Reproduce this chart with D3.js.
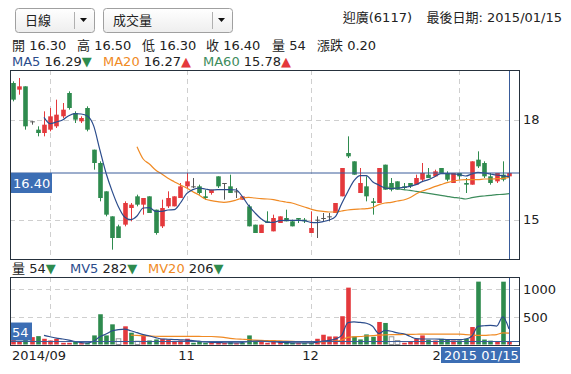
<!DOCTYPE html>
<html>
<head>
<meta charset="utf-8">
<script src="https://cdn.jsdelivr.net/npm/d3@7"></script>
<style>
body { margin: 0; background: #fff; }
svg text { font-family: "DejaVu Sans", "Noto Sans CJK TC", sans-serif; font-size: 12px; fill: #222; }
</style>
</head>
<body>
<div class="container"></div>
<script>
const WIDTH = 571;
const HEIGHT = 374;
const RED = "#e4393c";
const GREEN = "#2e8b4e";
const CURSOR = "#3a5c9a";
const BOXBLUE = "#3c6eb4";

var stockName = "迎廣(6117)";
var lastDate = "2015/01/15";

// daily prices, 2014/09 .. 2015/01/15
var opens = [19.10,18.90,19.00,17.95,17.70,17.60,17.70,17.80,18.10,18.80,18.20,17.95,18.35,17.10,16.70,15.85,15.10,14.80,14.85,15.35,
  15.70,15.45,15.70,15.30,14.80,15.40,15.40,15.65,16.00,16.00,16.00,15.70,15.80,16.30,16.10,16.00,15.85,15.60,15.40,14.85,
  14.60,14.95,14.65,14.90,15.05,14.95,15.05,15.00,14.60,15.00,15.05,15.10,15.20,15.70,17.00,16.75,15.80,16.00,15.55,15.50,
  16.65,16.10,16.15,16.00,16.10,16.05,16.20,16.35,16.30,16.55,16.40,16.10,16.40,16.10,16.05,16.80,16.70,16.30,16.15,16.35,16.30];
var highs = [19.15,19.25,19.00,17.95,17.80,18.25,18.35,18.60,18.50,18.85,18.25,18.10,18.40,17.10,16.75,15.85,15.10,14.85,15.55,15.50,
  15.75,15.65,15.70,15.30,15.60,15.85,15.70,16.10,16.40,16.25,16.05,15.90,15.90,16.30,16.10,16.35,15.95,15.70,15.45,14.85,
  14.85,15.25,15.15,15.10,15.30,15.00,15.05,15.05,15.25,15.10,15.20,15.20,15.50,16.55,17.50,16.75,16.55,16.30,15.65,16.55,
  16.65,16.25,16.15,16.10,16.10,16.35,16.70,16.55,16.50,16.55,16.45,16.40,16.40,16.25,16.75,17.05,16.75,16.40,16.40,16.75,16.50];
var lows = [18.55,18.75,17.70,17.85,17.50,17.50,17.65,17.75,18.05,18.30,17.90,17.90,17.65,16.50,15.55,15.10,14.10,14.45,14.80,14.95,
  15.40,15.15,15.20,14.55,14.75,15.35,15.40,15.65,15.95,15.95,15.75,15.60,15.75,15.95,15.60,15.80,15.65,15.60,14.80,14.60,
  14.60,14.90,14.65,14.90,14.95,14.80,14.90,14.90,14.60,14.45,14.95,14.95,15.20,15.70,16.85,16.35,15.80,15.55,15.15,15.50,
  15.90,15.85,15.90,15.90,15.95,16.05,16.15,16.25,16.30,16.40,16.15,16.10,16.20,15.80,16.05,16.55,16.25,16.05,16.10,16.15,16.30];
var closes = [18.60,19.00,17.80,17.95,17.60,17.85,18.10,18.15,18.30,18.35,18.00,18.05,17.70,16.70,15.65,15.15,14.45,14.45,15.50,15.45,
  15.45,15.65,15.20,14.60,15.35,15.65,15.70,16.00,16.15,16.00,15.80,15.65,15.90,16.00,16.10,15.80,15.85,15.70,14.80,14.60,
  14.85,14.90,15.05,15.10,14.95,14.80,15.00,14.95,14.75,15.00,15.05,15.10,15.50,16.55,16.90,16.35,16.10,15.70,15.50,16.55,
  15.90,15.90,15.90,15.95,16.00,16.25,16.40,16.25,16.45,16.40,16.20,16.40,16.30,16.05,16.75,16.60,16.30,16.10,16.40,16.20,16.40];
var volumes = [150,55,380,134,152,104,73,104,31,31,55,25,28,165,549,165,366,104,330,214,
  60,165,73,92,104,92,55,73,104,31,55,31,43,31,31,40,24,31,165,55,
  73,31,73,65,55,31,25,25,25,104,177,146,146,513,1032,146,92,183,140,409,
  391,140,73,31,55,104,165,86,73,104,86,73,73,104,317,1141,90,70,55,1140,54];

// moving averages (null = not drawn yet)
var ma5 = [null,null,null,null,null,18.07,17.88,17.93,17.99,18.12,18.18,18.17,18.11,17.82,17.10,16.40,15.85,15.39,15.08,15.00,
  15.11,15.35,15.36,15.25,15.25,15.29,15.30,15.50,15.78,15.90,15.95,15.92,15.89,15.90,15.90,15.90,15.89,15.69,15.42,15.21,
  15.03,14.92,14.92,14.97,14.98,14.98,14.98,14.97,14.92,14.91,14.94,14.99,15.09,15.48,15.84,16.17,16.32,16.32,16.14,16.04,
  15.95,15.93,15.95,15.97,16.00,16.05,16.14,16.20,16.29,16.38,16.38,16.37,16.35,16.31,16.37,16.42,16.40,16.37,16.34,16.32,16.29];
var ma20 = [null,null,null,null,null,null,null,null,null,null,null,null,null,null,null,null,null,null,null,null,
  17.19,16.82,16.67,16.49,16.37,16.24,16.14,16.04,15.95,15.84,15.74,15.62,15.57,15.54,15.52,15.54,15.59,15.65,15.67,15.65,
  15.63,15.62,15.60,15.56,15.53,15.50,15.44,15.38,15.32,15.27,15.25,15.23,15.23,15.26,15.29,15.31,15.32,15.33,15.36,15.45,
  15.50,15.52,15.56,15.59,15.66,15.77,15.86,15.92,15.99,16.05,16.11,16.16,16.19,16.20,16.20,16.20,16.22,16.22,16.23,16.24,16.27];
var ma60 = [];
for (var k = 0; k < 60; k++) ma60.push(null);
ma60 = ma60.concat([15.98,15.96,15.93,15.90,15.88,15.85,15.82,15.79,15.76,15.73,15.70,15.67,15.65,15.62,15.66,15.69,15.71,15.73,15.75,15.76,15.78]);

var mv5 = [null,null,null,null,null,165,140,115,100,80,55,35,28,60,140,190,250,270,280,250,
  215,180,155,125,100,95,90,85,80,70,60,45,40,35,32,30,30,35,55,60,
  60,55,50,40,35,30,28,28,28,40,60,75,100,165,395,410,400,385,330,200,
  255,240,210,195,150,105,100,100,100,95,90,90,90,100,150,330,340,348,335,500,282];
var mv20 = [null,null,null,null,null,null,null,null,null,null,null,null,null,null,null,null,null,null,null,170,
  165,160,155,150,148,147,146,146,146,146,146,145,145,140,130,110,100,95,90,80,
  75,72,70,65,60,55,52,50,45,45,50,55,60,80,130,140,145,155,160,170,
  175,178,180,182,184,186,188,190,190,190,190,190,188,180,172,165,165,172,180,212,206];

// month grid (candle index) and labels
var monthIdx = [6, 28, 48, 72];
var monthLabels = ["2014/09", "11", "12", "2015/01"];

var MAIN = {left: 10, right: 519, top: 70, bottom: 259};
var VOL = {left: 10, right: 519, top: 277, bottom: 345};
var svg;

var x = d3.scaleLinear().domain([0, closes.length - 1]).range([13, 509]);
var yP = d3.scaleLinear().domain([13.82, 19.49]).range([MAIN.bottom, MAIN.top]);
var yV = d3.scaleLinear().domain([0, 1225]).range([344.5, VOL.top]);
var BODY = 4.6;
var last = closes.length - 1;

var fmt = d3.format(".2f");

var arrow = function(arr){
  var a = arr[last], b = arr[last - 1];
  return a < b ? {t: "▼", c: GREEN} : {t: "▲", c: RED};
}

var drawHeader = function(){
  var boxes = [{x: 15, w: 79, sep: 74, label: "日線"}, {x: 103, w: 129, sep: 212, label: "成交量"}];
  var grad = svg.append("defs").append("linearGradient").attr("id", "dd").attr("x1", 0).attr("y1", 0).attr("x2", 0).attr("y2", 1);
  grad.append("stop").attr("offset", 0).attr("stop-color", "#ffffff");
  grad.append("stop").attr("offset", 1).attr("stop-color", "#eeeeee");
  boxes.forEach(function(b){
    svg.append("rect").attr("x", b.x + 0.5).attr("y", 8.5).attr("width", b.w).attr("height", 24)
      .attr("rx", 3).attr("fill", "url(#dd)").attr("stroke", "#a0a0a0");
    svg.append("line").attr("x1", b.sep + 0.5).attr("x2", b.sep + 0.5).attr("y1", 12).attr("y2", 29).attr("stroke", "#b0b0b0");
    svg.append("text").attr("x", b.x + 10).attr("y", 25).style("font-size", "13px").text(b.label);
    svg.append("path").attr("d", "M" + (b.sep + 6) + ",18 h7 l-3.5,4 z").attr("fill", "#111");
  });

  svg.append("text").attr("x", 412).attr("y", 22).attr("text-anchor", "end")
    .style("font-size", "13px").text(stockName);
  svg.append("text").attr("x", 562).attr("y", 22).attr("text-anchor", "end")
    .style("font-size", "13px").text("最後日期: " + lastDate);

  var row = [["開", fmt(opens[last])], ["高", fmt(highs[last])], ["低", fmt(lows[last])],
             ["收", fmt(closes[last])], ["量", volumes[last]], ["漲跌", fmt(closes[last] - closes[last - 1])]];
  var rx = [12, 77, 142, 206, 272, 317];
  row.forEach(function(r, i){
    svg.append("text").attr("x", rx[i]).attr("y", 50).style("font-size", "13px").text(r[0] + " " + r[1]);
  });

  var mas = [{n: "MA5", v: ma5, c: "#2b4c8c", x: 12}, {n: "MA20", v: ma20, c: "#f08a24", x: 103}, {n: "MA60", v: ma60, c: "#3d8c5c", x: 203}];
  mas.forEach(function(m){
    var a = arrow(m.v);
    var t = svg.append("text").attr("x", m.x).attr("y", 66).style("font-size", "13px");
    t.append("tspan").style("fill", m.c).text(m.n);
    t.append("tspan").text(" " + fmt(m.v[last]));
    t.append("tspan").style("fill", a.c).text(a.t);
  });

  var vh = [{n: "量", v: volumes, c: "#222", x: 12}, {n: "MV5", v: mv5, c: "#2b4c8c", x: 70}, {n: "MV20", v: mv20, c: "#f08a24", x: 148}];
  vh.forEach(function(m){
    var a = arrow(m.v);
    var t = svg.append("text").attr("x", m.x).attr("y", 273).style("font-size", "13px");
    t.append("tspan").style("fill", m.c).text(m.n);
    t.append("tspan").text(" " + Math.round(m.v[last]));
    t.append("tspan").style("fill", a.c).text(a.t);
  });
}

var drawGrid = function(panel, yScale, yTicks){
  var g = svg.append("g");
  g.selectAll(".hg").data(yTicks).enter().append("line")
    .attr("x1", panel.left).attr("x2", panel.right)
    .attr("y1", function(d){ return Math.round(yScale(d)) + 0.5; })
    .attr("y2", function(d){ return Math.round(yScale(d)) + 0.5; })
    .attr("stroke", "#cfcfcf").attr("stroke-dasharray", "5,4");
  g.selectAll(".vg").data(monthIdx).enter().append("line")
    .attr("x1", function(d){ return Math.round(x(d)) + 0.5; })
    .attr("x2", function(d){ return Math.round(x(d)) + 0.5; })
    .attr("y1", panel.top).attr("y2", panel.bottom)
    .attr("stroke", "#cfcfcf").attr("stroke-dasharray", "5,4");
}

var drawCandles = function(){
  var g = svg.append("g").attr("clip-path", "url(#clipMain)");
  var idx = d3.range(closes.length);
  var col = function(i){
    if (closes[i] > opens[i]) return RED;
    if (closes[i] < opens[i]) return GREEN;
    return "#555";
  };
  g.selectAll(".wick").data(idx).enter().append("line")
    .attr("x1", function(i){ return Math.round(x(i)) + 0.5; })
    .attr("x2", function(i){ return Math.round(x(i)) + 0.5; })
    .attr("y1", function(i){ return yP(highs[i]); })
    .attr("y2", function(i){ return yP(lows[i]); })
    .attr("stroke", col);
  g.selectAll(".body").data(idx).enter().append("rect")
    .attr("x", function(i){ return Math.round(x(i)) + 0.5 - BODY / 2; })
    .attr("width", BODY)
    .attr("y", function(i){ return yP(Math.max(opens[i], closes[i])); })
    .attr("height", function(i){ return Math.max(1, yP(Math.min(opens[i], closes[i])) - yP(Math.max(opens[i], closes[i]))); })
    .attr("fill", col);
}

var drawLine = function(arr, yScale, color, clip){
  var line = d3.line()
    .defined(function(d){ return d != null; })
    .x(function(d, i){ return x(i); })
    .y(function(d){ return yScale(d); })
    .curve(d3.curveMonotoneX);
  svg.append("path").datum(arr).attr("clip-path", clip)
    .attr("d", line).attr("fill", "none").attr("stroke", color).attr("stroke-width", 1.2);
}

var drawVolume = function(){
  var g = svg.append("g").attr("clip-path", "url(#clipVol)");
  var idx = d3.range(volumes.length);
  var change = function(i){
    if (i == 0) return 1;
    return Math.round(closes[i] * 100) - Math.round(closes[i - 1] * 100);
  };
  g.selectAll(".vbar").data(idx).enter().append("rect")
    .attr("x", function(i){ return Math.round(x(i)) + 0.5 - BODY / 2; })
    .attr("width", BODY)
    .attr("y", function(i){ return yV(volumes[i]); })
    .attr("height", function(i){ return yV(0) - yV(volumes[i]); })
    .attr("fill", function(i){
      var ch = change(i);
      return ch > 0 ? RED : (ch < 0 ? GREEN : "#fff");
    })
    .attr("stroke", function(i){ return change(i) == 0 ? "#999" : "none"; });
}

var drawAxes = function(){
  var ap = d3.axisRight(yP).tickValues([15, 18]).tickFormat(d3.format("d")).tickSize(0).tickPadding(4);
  svg.append("g").attr("transform", "translate(" + MAIN.right + ",0)").call(ap)
    .call(function(g){ g.select(".domain").remove(); })
    .selectAll("text").style("font-size", "13px").attr("fill", "#222");
  var av = d3.axisRight(yV).tickValues([500, 1000]).tickFormat(d3.format("d")).tickSize(0).tickPadding(4);
  svg.append("g").attr("transform", "translate(" + MAIN.right + ",0)").call(av)
    .call(function(g){ g.select(".domain").remove(); })
    .selectAll("text").style("font-size", "13px").attr("fill", "#222");

  svg.append("defs").append("clipPath").attr("id", "clipLab").append("rect")
    .attr("x", 0).attr("y", 346).attr("width", 441).attr("height", 28);
  monthIdx.forEach(function(d, i){
    var t = svg.append("text").attr("y", 360).attr("clip-path", "url(#clipLab)")
      .style("font-size", "13px").text(monthLabels[i]);
    if (i == 0) t.attr("x", MAIN.left + 2);
    else t.attr("x", x(d)).attr("text-anchor", "middle");
  });
}

var drawCursor = function(){
  var cx = Math.round(x(last)) + 0.5;
  var cy = yP(closes[last]);
  svg.append("line").attr("x1", MAIN.left).attr("x2", MAIN.right).attr("y1", cy).attr("y2", cy).attr("stroke", CURSOR);
  svg.append("line").attr("x1", cx).attr("x2", cx).attr("y1", MAIN.top).attr("y2", MAIN.bottom).attr("stroke", CURSOR);
  svg.append("line").attr("x1", cx).attr("x2", cx).attr("y1", VOL.top).attr("y2", VOL.bottom).attr("stroke", CURSOR);
  var vy = yV(volumes[last]);
  svg.append("line").attr("x1", VOL.left).attr("x2", VOL.right).attr("y1", vy).attr("y2", vy).attr("stroke", CURSOR);

  svg.append("rect").attr("x", MAIN.left).attr("y", cy).attr("width", 42).attr("height", 20).attr("fill", BOXBLUE);
  svg.append("text").attr("x", MAIN.left + 3).attr("y", cy + 15).style("fill", "#fff").style("font-size", "13px").text(fmt(closes[last]));

  svg.append("rect").attr("x", VOL.left).attr("y", vy - 19).attr("width", 22).attr("height", 18).attr("fill", BOXBLUE);
  svg.append("text").attr("x", VOL.left + 2).attr("y", vy - 5).style("fill", "#fff").style("font-size", "13px").text(volumes[last]);

  svg.append("rect").attr("x", 441).attr("y", 347).attr("width", 79).attr("height", 16).attr("fill", BOXBLUE);
  svg.append("text").attr("x", 444).attr("y", 360).style("fill", "#fff").style("font-size", "13px")
    .text(lastDate.slice(0, 4) + " " + lastDate.slice(5));
}

var drawFrames = function(){
  [MAIN, VOL].forEach(function(p){
    svg.append("rect").attr("x", p.left + 0.5).attr("y", p.top + 0.5)
      .attr("width", p.right - p.left).attr("height", p.bottom - p.top)
      .attr("fill", "none").attr("stroke", "#26313d");
  });
}

var loadChart = function(){
  svg = d3.select(".container").append("svg").attr("width", WIDTH).attr("height", HEIGHT);
  var defs = svg.append("defs");
  defs.append("clipPath").attr("id", "clipMain").append("rect")
    .attr("x", MAIN.left + 1).attr("y", MAIN.top).attr("width", MAIN.right - MAIN.left).attr("height", MAIN.bottom - MAIN.top);
  defs.append("clipPath").attr("id", "clipVol").append("rect")
    .attr("x", VOL.left + 1).attr("y", VOL.top).attr("width", VOL.right - VOL.left).attr("height", VOL.bottom - VOL.top);

  drawHeader();
  drawGrid(MAIN, yP, [15, 18]);
  drawGrid(VOL, yV, [500, 1000]);
  drawCandles();
  drawLine(ma60, yP, "#3d8c5c", "url(#clipMain)");
  drawLine(ma20, yP, "#f08a24", "url(#clipMain)");
  drawLine(ma5, yP, "#2b4c8c", "url(#clipMain)");
  drawVolume();
  drawLine(mv20, yV, "#f08a24", "url(#clipVol)");
  drawLine(mv5, yV, "#2b4c8c", "url(#clipVol)");
  drawAxes();
  drawCursor();
  drawFrames();
}
window.onload = loadChart;
</script>
</body>
</html>
